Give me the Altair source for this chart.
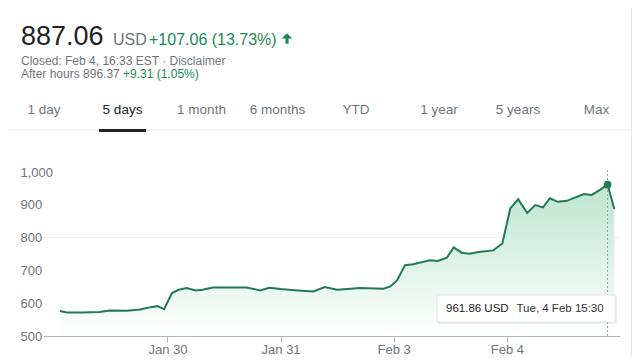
import altair as alt
import pandas as pd

# ---- data ----
positions = [0.05, 0.11, 0.25, 0.40, 0.49, 0.64, 0.76, 0.85, 0.91, 0.97,
             1.04, 1.10, 1.17, 1.25, 1.31, 1.40, 1.55, 1.70, 1.82, 1.90,
             2.00, 2.15, 2.29, 2.39, 2.50, 2.59, 2.70, 2.91, 2.97,
             3.03, 3.10, 3.17, 3.32, 3.39, 3.47, 3.53, 3.60, 3.67, 3.75, 3.88, 3.96,
             4.03, 4.10, 4.18, 4.25, 4.32, 4.38, 4.45, 4.53, 4.68, 4.75, 4.83, 4.89, 4.95]
prices = [576, 572, 572, 573, 578, 577, 581, 588, 591, 582,
          631, 641, 646, 639, 641, 648, 648, 648, 639, 647,
          643, 639, 636, 649, 641, 643, 646, 644, 651,
          670, 716, 719, 731, 729, 739, 770, 754, 751, 756, 761, 782,
          889, 917, 875, 899, 892, 920, 909, 912, 933, 930, 947, 961.86, 887.06]

tick_positions = [1, 2, 3, 4]
tick_labels = ["Jan 30", "Jan 31", "Feb 3", "Feb 4"]
y_ticks = [500, 600, 700, 800, 900, 1000]
gridline_value = [800]

hover_pos = [4.89]
hover_price = [961.86]

tabs = ["1 day", "5 days", "1 month", "6 months", "YTD", "1 year", "5 years", "Max"]
selected_tab = "5 days"

price_text = "887.06"
currency_text = "USD"
change_text = "+107.06 (13.73%)"
closed_text = "Closed: Feb 4, 16:33 EST · Disclaimer"
after_text = "After hours 896.37"
after_change_text = "+9.31 (1.05%)"
tooltip_value = "961.86 USD"
tooltip_time = "Tue, 4 Feb 15:30"

# ---- styling ----
FONT = "Liberation Sans"
GREEN = "#1a8a55"
LINE = "#217a56"
GREY = "#70757a"
DARK = "#202124"

df = pd.DataFrame({"pos": positions, "price": prices})
hover_df = pd.DataFrame({"pos": hover_pos, "price": hover_price})
grid_df = pd.DataFrame({"price": gridline_value})
one = pd.DataFrame({"a": [0]})

label_expr = "[" + ",".join("'%s'" % t for t in tick_labels) + "][datum.value - 1]"

X = alt.X("pos:Q",
          scale=alt.Scale(domain=[-0.1, 5.0], nice=False, zero=False),
          axis=alt.Axis(values=tick_positions, labelExpr=label_expr, title=None,
                        grid=False, domainColor="#b5b5b5", tickColor="#b5b5b5",
                        tickSize=6, labelPadding=1, labelFontSize=13,
                        labelColor=GREY, labelFont=FONT, labelFlush=False))
Y = alt.Y("price:Q",
          scale=alt.Scale(domain=[500, 1000], nice=False, zero=False),
          axis=alt.Axis(values=y_ticks, format=",d", title=None, grid=False,
                        domain=False, ticks=False, tickSize=0, labelAlign="left",
                        labelPadding=23, labelFontSize=13, labelColor=GREY,
                        labelFont=FONT, labelBaseline="middle"))

gradient = alt.Gradient(
    gradient="linear",
    stops=[alt.GradientStop(color="#ffffff", offset=0),
           alt.GradientStop(color="#bde5d0", offset=1)],
    x1=1, x2=1, y1=1, y2=0)

grid = alt.Chart(grid_df).mark_rule(color="#eeeeee", strokeWidth=1).encode(
    y=Y, x=alt.value(0), x2=alt.value(577))

area = alt.Chart(df).mark_area(color=gradient, line=False).encode(
    x=X, y=Y, y2=alt.datum(500))
line = alt.Chart(df).mark_line(color=LINE, strokeWidth=2).encode(x=X, y=Y)

vrule = alt.Chart(hover_df).mark_rule(color="#9e9e9e", strokeDash=[2, 2], strokeWidth=1).encode(
    x=X, y=alt.value(-2), y2=alt.value(164))
dot = alt.Chart(hover_df).mark_circle(color=LINE, size=60, opacity=1).encode(x=X, y=Y)


def txt(text, x, y, size, color, align="left", weight="normal"):
    return alt.Chart(one).mark_text(
        text=text, align=align, baseline="alphabetic", fontSize=size,
        color=color, font=FONT, fontWeight=weight).encode(
        x=alt.value(x), y=alt.value(y))


def box(x, x2, y, y2, color, **kw):
    return alt.Chart(one).mark_rect(color=color, **kw).encode(
        x=alt.value(x), x2=alt.value(x2), y=alt.value(y), y2=alt.value(y2))


header = [
    txt(price_text, -22, -127, 27, "#222222"),
    txt(currency_text, 70, -127, 16, GREY),
    txt(change_text, 106, -127, 16, GREEN),
    alt.Chart(one).mark_point(
        shape="M0,-1 L1,0 L0.3,0 L0.3,1 L-0.3,1 L-0.3,0 L-1,0 Z",
        filled=True, size=110, color=GREEN, opacity=1).encode(
        x=alt.value(244), y=alt.value(-133.5)),
    txt(closed_text, -22, -107.5, 12, GREY),
    txt(after_text, -22, -94.5, 12, GREY),
    txt(after_change_text, 80, -94.5, 12, GREEN),
]

tab_centers = [1, 79.5, 158.5, 234.5, 313, 396, 475, 553.5]
tab_layers = []
for name, cx in zip(tabs, tab_centers):
    tab_layers.append(txt(name, cx, -58.5, 13.5,
                          DARK if name == selected_tab else GREY, align="center"))

decor = [
    box(-35, 589, -42.5, -41.5, "#e8e8e8"),
    box(56, 103, -43, -40, DARK),
    box(588, 589, -164, 184, "#e6e6e6"),
]

tooltip = [
    box(395, 574, 124, 152, "#000000", opacity=0.06),
    box(394, 572, 123, 150, "#ffffff", stroke="#e4e4e4", strokeWidth=1),
    txt(tooltip_value, 403, 140, 11.5, "#222222"),
    txt(tooltip_time, 473.5, 140, 11.5, "#333333"),
]

chart = alt.layer(
    grid, area, line, vrule, dot, *tooltip, *header, *tab_layers, *decor
).properties(
    width=577, height=164,
    padding={"left": 35, "top": 164, "right": 12, "bottom": 20},
    autosize=alt.AutoSizeParams(type="none"),
    background="white",
).configure_view(stroke=None)

chart.save("out.html", embed_options={"renderer": "svg", "actions": False})
